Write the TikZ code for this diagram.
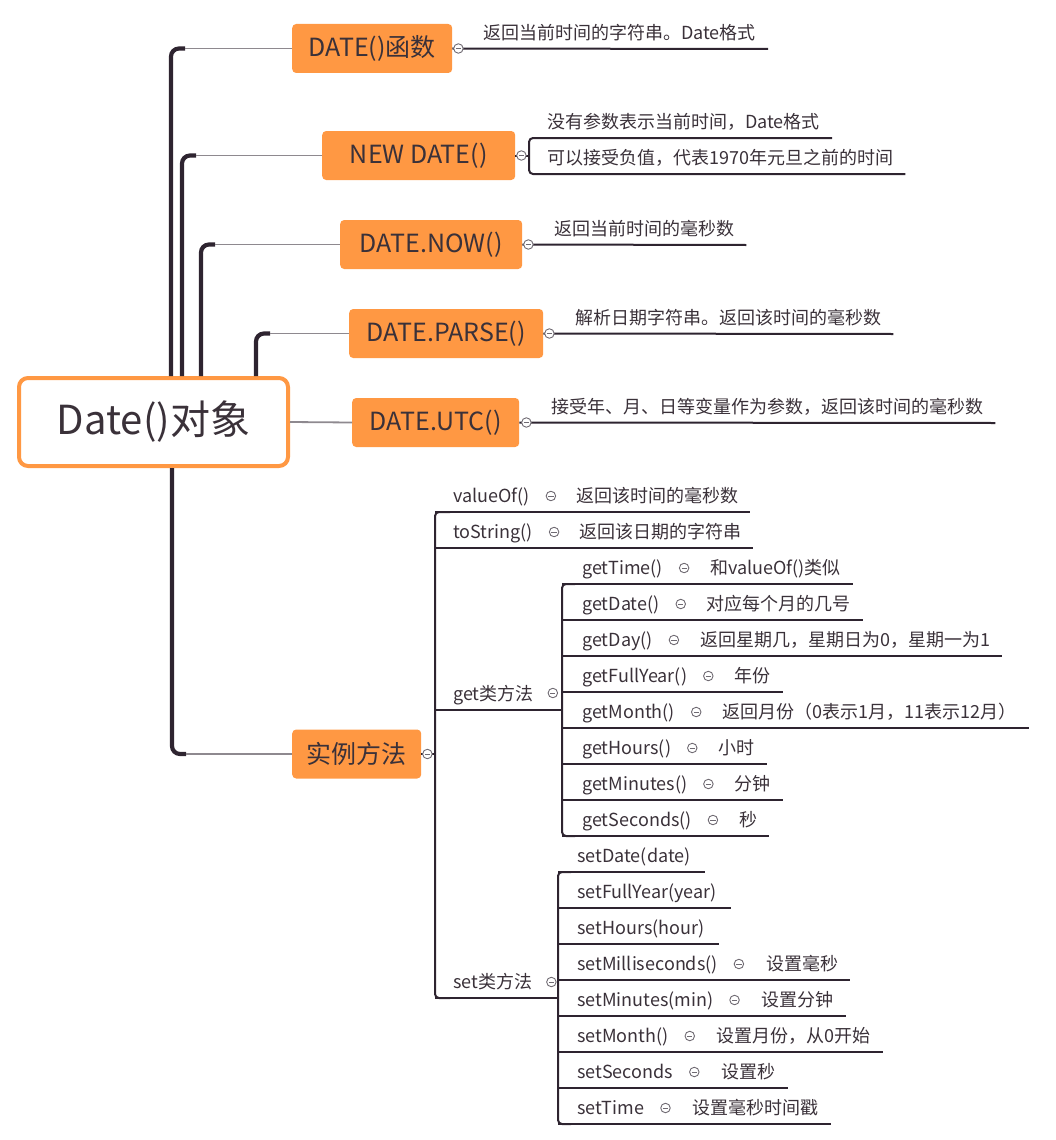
\documentclass[tikz,border=0pt]{standalone}
\usepackage{fontspec}
\setmainfont{Noto Sans CJK SC}
\usetikzlibrary{calc, positioning}
\definecolor{boxorange}{HTML}{FF9843}
\definecolor{linedark}{HTML}{2E2430}
\definecolor{linegray}{HTML}{8E898F}
\definecolor{inkdark}{HTML}{3A3139}
\definecolor{foldgray}{HTML}{6F6A72}
\tikzset{
  root/.style={draw=boxorange, line width=4pt, fill=white, rounded corners=9pt,
    minimum width=269pt, minimum height=88pt, inner sep=0pt, text=inkdark,
    font=\fontsize{40}{46}\selectfont},
  topic/.style={fill=boxorange, rounded corners=4pt, anchor=west, minimum height=49pt,
    inner sep=0pt, text=inkdark, font=\fontsize{25}{29}\selectfont},
  item/.style={anchor=base west, inner sep=0pt, text=inkdark, font=\fontsize{18}{21}\selectfont},
  trunk/.style={draw=linedark, line width=4.2pt, rounded corners=8pt},
  twig/.style={draw=linegray, line width=1.8pt},
  bar/.style={draw=linedark, line width=2pt},
  fold/.style={circle, draw=foldgray, fill=white, line width=0.9pt, minimum size=9.5pt, inner sep=0pt,
    path picture={\draw[foldgray, line width=0.8pt] ([xshift=-2.6pt]path picture bounding box.center)
      -- ([xshift=2.6pt]path picture bounding box.center);}}
}
\begin{document}
\begin{tikzpicture}[x=1pt, y=-1pt]
\useasboundingbox (0,0) rectangle (1055,1140);
% main topics
\node[root] (root) at (153.5,422) {Date()对象};
\node[topic, minimum width=160pt] (fn) at (292,48.5) {DATE()函数};
\node[topic, minimum width=193pt] (newd) at (322,155.5) {NEW DATE()};
\node[topic, minimum width=182pt] (now) at (340,244.5) {DATE.NOW()};
\node[topic, minimum width=194pt] (parse) at (349,333.5) {DATE.PARSE()};
\node[topic, minimum width=167pt] (utc) at (352,422.5) {DATE.UTC()};
\node[topic, minimum width=129pt] (inst) at (292,754) {实例方法};
%
\draw[trunk] (171,376) -- (171,48.5) -- (185,48.5);
\draw[twig] (185,48.5) -- (fn.west);
\draw[trunk] (182,376) -- (182,155.5) -- (196,155.5);
\draw[twig] (196,155.5) -- (newd.west);
\draw[trunk] (201,376) -- (201,244.5) -- (215,244.5);
\draw[twig] (215,244.5) -- (now.west);
\draw[trunk] (256,376) -- (256,333.5) -- (270,333.5);
\draw[twig] (270,333.5) -- (parse.west);
\draw[twig] (root.east) -- (utc.west);
\draw[trunk] (172,468) -- (172,754) -- (186,754);
\draw[twig] (186,754) -- (inst.west);
% leaves of the upper topics
\node[item] (fnd) at (483,39.5) {返回当前时间的字符串。Date格式};
\draw[bar] (fn.east) -- ($(fnd.base east)+(12,9.5)$);
\node[fold] (fnc) at ([xshift=6pt]fn.east) {};
\node[item] (nd1) at (547,128.5) {没有参数表示当前时间，Date格式};
\node[item] (nd2) at (547,164.5) {可以接受负值，代表1970年元旦之前的时间};
\draw[bar] (newd.east) -- (529,155.5);
\draw[bar, rounded corners=4pt] ($(nd1.base east)+(12,9.5)$) -- (529,138) -- (529,174)
  -- ($(nd2.base east)+(12,9.5)$);
\node[fold] (newdc) at ([xshift=6pt]newd.east) {};
\node[item] (nowd) at (554,235.5) {返回当前时间的毫秒数};
\draw[bar] (now.east) -- ($(nowd.base east)+(12,9.5)$);
\node[fold] (nowc) at ([xshift=6pt]now.east) {};
\node[item] (parsed) at (575,324.5) {解析日期字符串。返回该时间的毫秒数};
\draw[bar] (parse.east) -- ($(parsed.base east)+(12,9.5)$);
\node[fold] (parsec) at ([xshift=6pt]parse.east) {};
\node[item] (utcd) at (551,413.5) {接受年、月、日等变量作为参数，返回该时间的毫秒数};
\draw[bar] (utc.east) -- ($(utcd.base east)+(12,9.5)$);
\node[fold] (utcc) at ([xshift=7pt]utc.east) {};
% instance methods
\draw[bar] (inst.east) -- (435,754);
\draw[bar, rounded corners=4pt] (450,512) -- (435,512) -- (435,998) -- (450,998);
\node[fold] (instc) at ([xshift=6pt]inst.east) {};
\node[item] (vo) at (453,502.5) {valueOf()};
\node[fold] (voc) at ($(vo.base east)+(21,-6.5)$) {};
\node[item] (vod) at ($(voc)+(25,6.5)$) {返回该时间的毫秒数};
\draw[bar] (435,512) -- ($(vod.base east)+(12,9.5)$);
\node[item] (ts) at (453,538.5) {toString()};
\node[fold] (tsc) at ($(ts.base east)+(21,-6.5)$) {};
\node[item] (tsd) at ($(tsc)+(25,6.5)$) {返回该日期的字符串};
\draw[bar] (435,548) -- ($(tsd.base east)+(12,9.5)$);
\node[item] (get) at (453,700.5) {get类方法};
\node[fold] (getc) at ($(get.base east)+(19,-7.5)$) {};
\draw[bar] (435,710) -- (562,710);
\node[item] (set) at (453,988.5) {set类方法};
\node[fold] (setc) at ($(set.base east)+(19,-6.5)$) {};
\draw[bar] (435,998) -- (558,998);
% get methods, top to bottom
\draw[bar, rounded corners=4pt] (575,584) -- (562,584) -- (562,836) -- (575,836);
\foreach \m/\d [count=\i] in {getTime()/和valueOf()类似,
    getDate()/对应每个月的几号,
    getDay()/返回星期几，星期日为0，星期一为1,
    getFullYear()/年份,
    getMonth()/返回月份（0表示1月，11表示12月）,
    getHours()/小时,
    getMinutes()/分钟,
    getSeconds()/秒}{
  \pgfmathsetmacro\ly{548+36*\i}
  \node[item] (get\i) at (582,\ly-9.5) {\m};
  \node[fold] (getc\i) at ($(get\i.base east)+(21,-6.5)$) {};
  \node[item] (getd\i) at ($(getc\i)+(26,6.5)$) {\d};
  \draw[bar] (562,\ly) -- ($(getd\i.base east)+(12,9.5)$);
}
% set methods, top to bottom
\draw[bar, rounded corners=4pt] (571,872) -- (558,872) -- (558,1124) -- (571,1124);
\foreach \m [count=\i] in {setDate(date), setFullYear(year), setHours(hour)}{
  \pgfmathsetmacro\ly{836+36*\i}
  \node[item] (set\i) at (577,\ly-9.5) {\m};
  \draw[bar] (558,\ly) -- ($(set\i.base east)+(14,9.5)$);
}
\foreach \m/\d [count=\i from 4] in {setMilliseconds()/设置毫秒,
    setMinutes(min)/设置分钟,
    setMonth()/设置月份，从0开始,
    setSeconds/设置秒,
    setTime/设置毫秒时间戳}{
  \pgfmathsetmacro\ly{836+36*\i}
  \node[item] (set\i) at (577,\ly-9.5) {\m};
  \node[fold] (setc\i) at ($(set\i.base east)+(21,-6.5)$) {};
  \node[item] (setd\i) at ($(setc\i)+(27,6.5)$) {\d};
  \draw[bar] (558,\ly) -- ($(setd\i.base east)+(12,9.5)$);
}
\end{tikzpicture}
\end{document}
